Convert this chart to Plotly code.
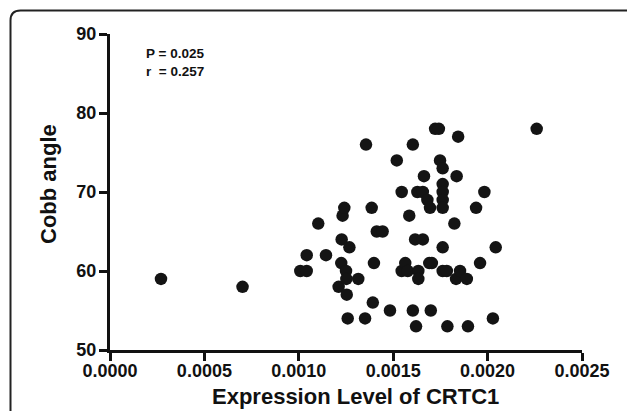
import plotly.graph_objects as go

expression = [0.000270, 0.000702, 0.001008, 0.001042, 0.001042, 0.001103, 0.001144, 0.001211,
              0.001225, 0.001227, 0.001232, 0.001241, 0.001250, 0.001252, 0.001254, 0.001259,
              0.001268, 0.001315, 0.001351, 0.001356, 0.001386, 0.001392, 0.001398, 0.001413,
              0.001444, 0.001483, 0.001519, 0.001545, 0.001545, 0.001564, 0.001577, 0.001585,
              0.001604, 0.001604, 0.001616, 0.001621, 0.001628, 0.001633, 0.001633, 0.001657,
              0.001657, 0.001663, 0.001681, 0.001691, 0.001695, 0.001699, 0.001705, 0.001722,
              0.001742, 0.001748, 0.001762, 0.001762, 0.001762, 0.001762, 0.001762, 0.001762,
              0.001762, 0.001784, 0.001787, 0.001824, 0.001833, 0.001836, 0.001844, 0.001854,
              0.001890, 0.001896, 0.001939, 0.001960, 0.001983, 0.002028, 0.002043, 0.002260]
cobb = [59, 58, 60, 60, 62, 66, 62, 58,
        61, 64, 67, 68, 60, 59, 57, 54,
        63, 59, 54, 76, 68, 56, 61, 65,
        65, 55, 74, 60, 70, 61, 60, 67,
        76, 55, 64, 53, 70, 60, 59, 70,
        64, 72, 69, 61, 68, 55, 61, 78,
        78, 74, 73, 71, 70, 69, 68, 63,
        60, 60, 53, 66, 59, 72, 77, 60,
        59, 53, 68, 61, 70, 54, 63, 78]

x_ticks = [0.0, 0.0005, 0.0010, 0.0015, 0.0020, 0.0025]
x_tick_labels = ["0.0000", "0.0005", "0.0010", "0.0015", "0.0020", "0.0025"]
y_ticks = [50, 60, 70, 80, 90]
y_tick_labels = ["50", "60", "70", "80", "90"]
x_title = "Expression Level of CRTC1"
y_title = "Cobb angle"
stats_text = "P = 0.025<br>r  = 0.257"

W, H = 628, 411
L, R, T, B = 110, 46, 34, 61
pw, ph = W - L - R, H - T - B

def px(xp):
    return (xp - L) / pw

def py(yp):
    return (H - B - yp) / ph

FONT = "Liberation Sans, Arial, sans-serif"

fig = go.Figure()
fig.add_trace(go.Scatter(
    x=expression, y=cobb, mode="markers",
    marker=dict(size=12.5, color="#141414", line=dict(width=0)),
    showlegend=False, cliponaxis=False,
))

axis_common = dict(
    showgrid=False, zeroline=False, showline=True, linecolor="#111", linewidth=3,
    ticks="outside", ticklen=8, tickwidth=2.5, tickcolor="#111",
    tickfont=dict(family=FONT, size=18, color="#111"),
)
fig.update_xaxes(range=[0, 0.0025], tickvals=x_ticks, ticklabelstandoff=-6,
                 ticktext=["<b>" + t + "</b>" for t in x_tick_labels], **axis_common)
fig.update_yaxes(range=[50, 90], tickvals=y_ticks, ticklabelstandoff=-1,
                 ticktext=["<b>" + t + "</b>" for t in y_tick_labels], **axis_common)

fig.add_annotation(text="<b>" + x_title + "</b>", xref="paper", yref="paper",
                   x=px(355), y=py(411), xanchor="center", yanchor="bottom", showarrow=False,
                   font=dict(family=FONT, size=22, color="#111"))
fig.add_annotation(text="<b>" + y_title + "</b>", xref="paper", yref="paper",
                   x=px(48), y=py(184), xanchor="center", yanchor="middle", textangle=-90,
                   showarrow=False, font=dict(family=FONT, size=22, color="#111"))
fig.add_annotation(text="<b>" + stats_text + "</b>", xref="paper", yref="paper",
                   x=px(144), y=py(62), xanchor="left", yanchor="middle", align="left",
                   showarrow=False, font=dict(family=FONT, size=13.5, color="#111"))

# rounded border frame
x0, y0, yb, xr, rad = px(10.5), py(10.5), py(420), px(627), 10
path = (f"M {x0},{yb} L {x0},{py(10.5 + rad)} Q {x0},{y0} {px(10.5 + rad)},{y0} L {xr},{y0}")
fig.add_shape(type="path", path=path, xref="paper", yref="paper",
              line=dict(color="#222", width=2))

fig.update_layout(
    width=W, height=H, margin=dict(l=L, r=R, t=T, b=B, pad=0),
    plot_bgcolor="white", paper_bgcolor="white",
)
fig.write_html("out.html")
